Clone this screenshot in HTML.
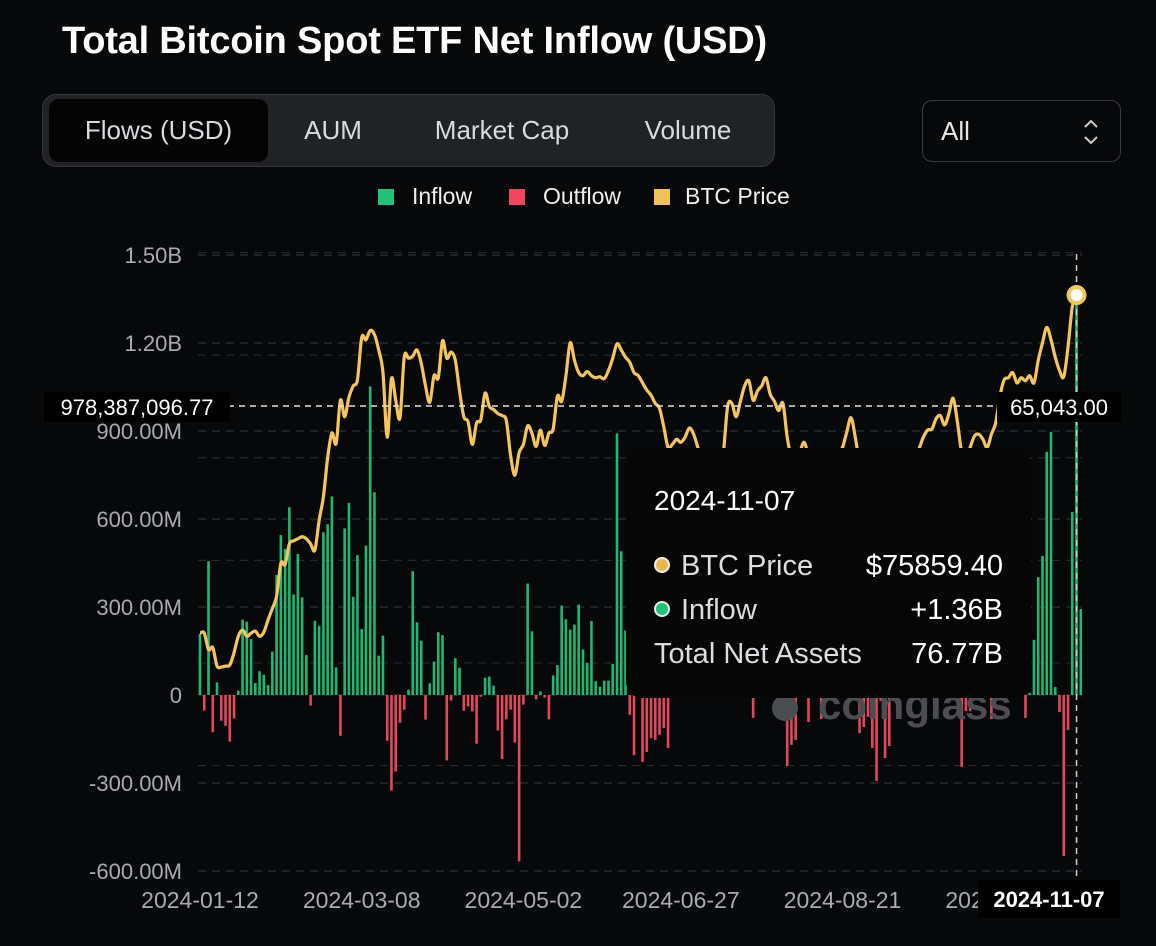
<!DOCTYPE html>
<html><head><meta charset="utf-8">
<style>
html,body{margin:0;padding:0;background:#07080a;}
body{width:1156px;height:946px;position:relative;overflow:hidden;font-family:"Liberation Sans",sans-serif;color:#fff;}
.title{position:absolute;left:62px;top:20px;font-size:38px;font-weight:bold;letter-spacing:-0.2px;}
.tabs{position:absolute;left:42px;top:94px;width:733px;height:73px;background:#202226;border:1px solid #34363b;border-radius:14px;box-sizing:border-box;}
.tab{position:absolute;top:4px;height:63px;line-height:63px;font-size:26px;color:#d8dadf;text-align:center;}
.tab.active{background:#040405;border-radius:10px;}
.dd{position:absolute;left:922px;top:100px;width:199px;height:62px;border:1px solid #3a3c41;border-radius:10px;box-sizing:border-box;background:#07080a;}
.dd span{position:absolute;left:18px;top:15px;font-size:26px;color:#e6e6e6;}
.leg{position:absolute;top:183px;font-size:23px;color:#f0f0f0;}
.sw{position:absolute;top:189px;width:16px;height:16px;}
</style></head>
<body>
<div class="title">Total Bitcoin Spot ETF Net Inflow (USD)</div>
<div class="tabs">
  <div class="tab active" style="left:6px;width:219px">Flows (USD)</div>
  <div class="tab" style="left:240px;width:100px">AUM</div>
  <div class="tab" style="left:370px;width:178px">Market Cap</div>
  <div class="tab" style="left:580px;width:130px">Volume</div>
</div>
<div class="dd"><span>All</span>
  <svg width="20" height="30" style="position:absolute;left:158px;top:16px"><path d="M4 10 L10 4 L16 10 M4 20 L10 26 L16 20" stroke="#ccc" stroke-width="2" fill="none"/></svg>
</div>
<div class="sw" style="left:378px;background:#1fc47a"></div>
<div class="leg" style="left:412px">Inflow</div>
<div class="sw" style="left:509px;background:#f0475c"></div>
<div class="leg" style="left:543px">Outflow</div>
<div class="sw" style="left:654px;background:#f2c25a"></div>
<div class="leg" style="left:685px">BTC Price</div>

<svg id="chart" width="1156" height="946" style="position:absolute;left:0;top:0"></svg>

<script>
const flows = [208,-53,456,-127,43,-88,-105,-159,-80,15,257,250,191,41,81,69,34,148,409,545,498,640,343,481,333,136,-36,253,236,555,582,677,94,-139,568,655,335,477,225,509,1052,691,134,202,-156,-326,-261,-95,-50,18,422,248,185,-84,
40,114,214,204,-223,-19,126,93,-54,-39,-56,-166,-6,59,63,32,-121,-218,-83,-50,-162,-567,-33,380,217,-15,12,-9,-83,67,102,305,258,223,240,308,155,110,252,47,28,49,49,106,892,490,220,
-68,-205,20,-228,-194,-147,-153,-136,-113,-181,25,80,150,110,60,40,100,200,250,130,70,20,300,420,380,290,180,120,60,-78,50,90,140,200,180,100,30,-242,-170,-153,20,40,-92,30,60,-82,40,100,200,250,150,300,250,120,-130,-109,-75,-181,-293,-20,-215,-174,30,60,120,180,250,200,280,320,240,150,100,200,250,180,150,100,-245,-55,-55,150,250,350,230,-82,200,500,550,400,300,250,180,-78,7,188,402,474,829,897,27,-58,-549,-119,624,1360,293];
const prices = [42920,42900,41300,41500,39700,39600,39700,39800,41000,42600,43200,42600,42900,43100,42600,43000,44200,45300,46500,49700,49600,51600,51900,52100,52300,52100,51600,51000,53900,56200,60000,62400,61400,65600,64000,65900,67000,67600,71700,71500,72400,72000,70500,68300,62000,67700,65600,63900,69800,69700,69900,70500,69200,67000,65400,68000,67800,71400,69700,70300,69500,66500,64000,63500,61300,63400,63700,66300,65000,64700,64300,64100,63600,60200,58300,60500,61300,63100,62400,61100,62700,61200,62400,62800,66000,65500,68000,71200,69500,68300,68000,68400,68000,67800,67900,67700,68500,69700,71100,70500,69800,69300,68300,68000,67300,66600,66100,65300,64800,63000,61000,61300,61800,61500,62000,62900,62300,61000,59500,58500,58000,57500,58500,60500,65000,65300,64000,65500,67000,67500,65600,66500,67000,67800,66200,65500,64600,65300,62000,60000,59000,60500,61500,60000,58000,57000,58000,59000,58000,59500,60500,61000,62500,63900,62000,59500,58000,57500,56500,57000,56000,57500,58000,58500,57500,56500,57000,58500,60000,60900,62000,62700,62800,63800,64100,63200,64300,65800,63500,60500,59500,61000,62100,62300,61800,61000,62300,63400,66000,67600,67800,68300,67300,67800,67500,68000,67300,69500,71200,72700,71500,69800,68500,67900,70800,74700,75860];
const tickLabels = ["2024-01-12","2024-03-08","2024-05-02","2024-06-27","2024-08-21","2024-10-16"];
const tickIdx = [0,38,76,113,151,189];
const yTicks = [1500,1200,900,600,300,0,-300,-600];
const yTickLabels = ["1.50B","1.20B","900.00M","600.00M","300.00M","0","-300.00M","-600.00M"];
const priceGrid = [80000,70000,60000,50000,40000,30000];

const NS="http://www.w3.org/2000/svg";
const svg=document.getElementById('chart');
const X0=200, STEP=4.255;
const xs=i=>X0+i*STEP;
const yf=v=>695-v*0.29333;
const yp=p=>406-(p-65043)*0.01026;
function mk(tag,attrs,parent){const e=document.createElementNS(NS,tag);for(const k in attrs)e.setAttribute(k,attrs[k]);(parent||svg).appendChild(e);return e;}

yTicks.forEach((v,i)=>{
  const l=mk('line',{x1:198,x2:1082,y1:yf(v),y2:yf(v),stroke:'#2e3034','stroke-width':1.2,'stroke-dasharray':'8 6'});
  
  
  const t=mk('text',{x:182,y:yf(v)+8,'text-anchor':'end','font-size':22,fill:'#a9abb0','font-family':'Liberation Sans, sans-serif'});
  t.textContent=yTickLabels[i];
  
  
});
priceGrid.forEach(p=>{
  const y=yp(p); if(y<250||y>880) return;
  const l=mk('line',{x1:198,x2:1082,y1:y,y2:y,stroke:'#26282c','stroke-width':1.2,'stroke-dasharray':'8 6'});
  
  
});
tickIdx.forEach((ix,i)=>{
  const t=mk('text',{x:xs(ix),y:908,'text-anchor':'middle','font-size':23,fill:'#a9abb0','font-family':'Liberation Sans, sans-serif'});
  t.textContent=tickLabels[i];
  
  
});
flows.forEach((v,i)=>{
  const y0=yf(0), y1=yf(v);
  const r=mk('rect',{x:xs(i)-1.3,width:2.6,y:Math.min(y0,y1),height:Math.max(0.5,Math.abs(y1-y0)),fill:v>=0?'#1fb873':'#e2475b'});
  
  
});
const wm=mk('text',{x:818,y:719,'font-size':42,'font-weight':'bold',fill:'#4c4d50','font-family':'Liberation Sans, sans-serif'});
wm.textContent='coinglass';


mk('circle',{cx:785,cy:708,r:13,fill:'#4c4d50'});
let pts=prices.map((p,i)=>[xs(i),yp(p)]);
let d='M'+pts[0][0]+' '+pts[0][1];
for(let i=1;i<pts.length;i++){
  const p0=pts[Math.max(0,i-2)],p1=pts[i-1],p2=pts[i],p3=pts[Math.min(pts.length-1,i+1)];
  const c1x=p1[0]+(p2[0]-p0[0])/6,c1y=p1[1]+(p2[1]-p0[1])/6,c2x=p2[0]-(p3[0]-p1[0])/6,c2y=p2[1]-(p3[1]-p1[1])/6;
  d+=` C${c1x} ${c1y} ${c2x} ${c2y} ${p2[0]} ${p2[1]}`;
}
const pl=mk('path',{d:d,fill:'none',stroke:'#f4c55a','stroke-width':3.2,'stroke-linejoin':'round'});


const tg=mk('g',{});


mk('rect',{x:626,y:448,width:405,height:250,rx:16,fill:'#060607'},tg);
const tt=[['2024-11-07',654,510,28,'#fff','start'],['BTC Price',681,575,29,'#dcdde0','start'],['$75859.40',1003,575,29,'#fff','end'],['Inflow',681,619,29,'#dcdde0','start'],['+1.36B',1003,619,29,'#fff','end'],['Total Net Assets',654,663,29,'#dcdde0','start'],['76.77B',1003,663,29,'#fff','end']];
tt.forEach(a=>{const t=mk('text',{x:a[1],y:a[2],'font-size':a[3],fill:a[4],'text-anchor':a[5],'font-family':'Liberation Sans, sans-serif'},tg);t.textContent=a[0];});
mk('circle',{cx:662,cy:565,r:7,fill:'#e8b94d',stroke:'#eee','stroke-width':2},tg);
mk('circle',{cx:662,cy:609,r:7,fill:'#1fc47a',stroke:'#eee','stroke-width':2},tg);
const cx=xs(206);
const vl=mk('line',{x1:cx,x2:cx,y1:254,y2:880,stroke:'#d0d0d0','stroke-width':1.5,'stroke-dasharray':'6 5'});


const hl=mk('line',{x1:228,x2:1000,y1:406,y2:406,stroke:'#e0e0e0','stroke-width':1.5,'stroke-dasharray':'6 5'});


const dot=mk('circle',{cx:cx,cy:yp(prices[206]),r:8,fill:'#fff',stroke:'#f4c55a','stroke-width':4});


function lab(x,y,w,h,txt,name,bold){
  const g=mk('g',{});
  
  
  mk('rect',{x:x,y:y,width:w,height:h,fill:'#000'},g);
  const t=mk('text',{x:x+w/2,y:y+h/2+8,'text-anchor':'middle','font-size':22,'font-weight':bold?'bold':'normal',fill:'#fff','font-family':'Liberation Sans, sans-serif'},g);
  t.textContent=txt;
}
lab(44,392,186,30,'978,387,096.77','crosshair-y-label',false);
lab(997,392,124,30,'65,043.00','crosshair-price-label',false);
lab(978,880,142,38,'2024-11-07','crosshair-date-label',true);
</script>
</body></html>
